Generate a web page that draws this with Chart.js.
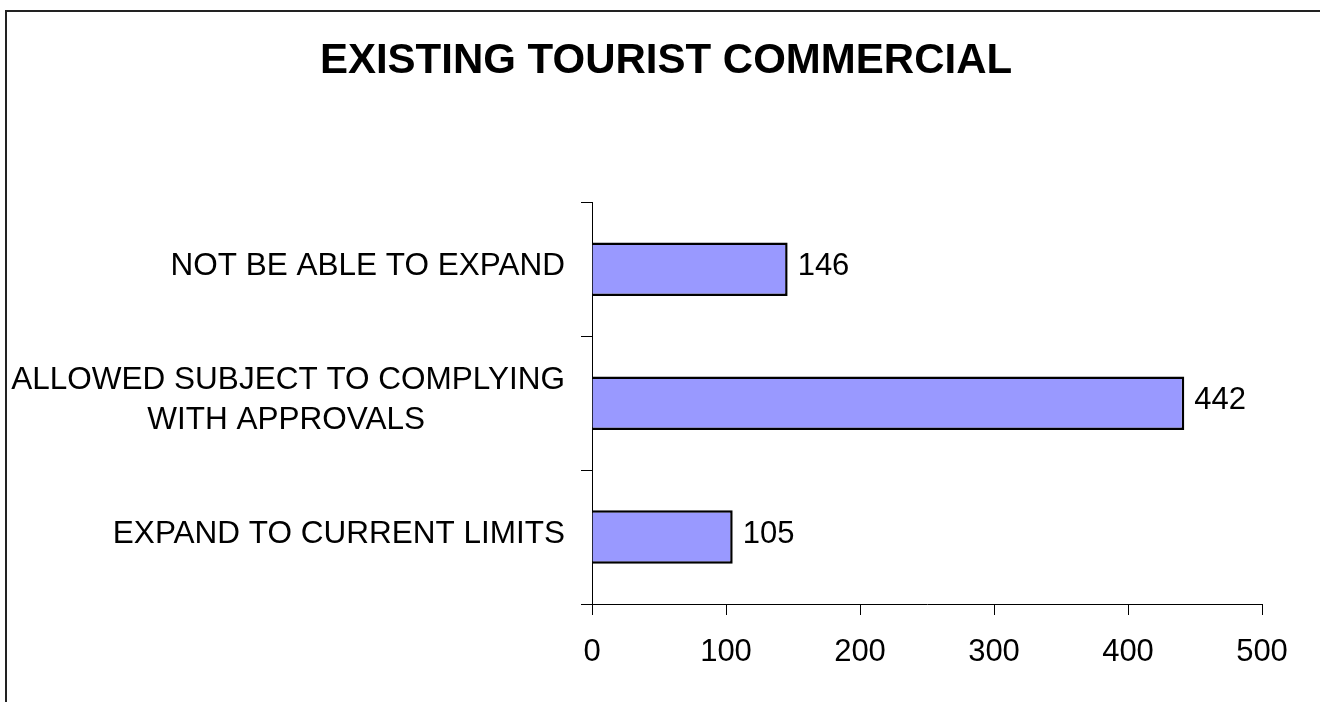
<!DOCTYPE html>
<html>
<head>
<meta charset="utf-8">
<script src="https://cdn.jsdelivr.net/npm/chart.js@4.4.1/dist/chart.umd.min.js"></script>
<style>
  html, body { margin: 0; padding: 0; background: #fff; overflow: hidden; width: 1320px; height: 702px; }
  #frame { position: absolute; left: 5px; top: 10px; width: 2000px; height: 2000px; border-left: 2px solid #222; border-top: 2px solid #222; }
  #c { position: absolute; left: 6px; top: 0; }
</style>
</head>
<body>
<div id="frame"></div>
<canvas id="c" width="1320" height="702"></canvas>
<script>
// chart data
const chartTitle = 'EXISTING TOURIST COMMERCIAL';
const categories = [
    ['NOT BE ABLE TO EXPAND'],
    ['ALLOWED SUBJECT TO COMPLYING', 'WITH APPROVALS'],
    ['EXPAND TO CURRENT LIMITS']
];
const counts = [146, 442, 105];
const xTicks = [0, 100, 200, 300, 400, 500];

const FAMILY = '"Liberation Sans", Arial, sans-serif';
const LABEL_SIZE = 31;
const CAT_SIZE = 31.5;

// lines of a wrapped label are centred on each other, the block is right aligned
function centerLines(lines) {
    if (lines.length < 2) return lines;
    const m = document.createElement('canvas').getContext('2d');
    m.font = CAT_SIZE + 'px ' + FAMILY;
    const widest = Math.max(...lines.map(l => m.measureText(l).width));
    const space = m.measureText(' ').width;
    return lines.map(l => l + ' '.repeat(Math.round((widest - m.measureText(l).width) / 2 / space)));
}

// numbers at the end of the bars
const valueLabels = {
    id: 'valueLabels',
    afterDatasetsDraw(chart) {
        const ctx = chart.ctx;
        const meta = chart.getDatasetMeta(0);
        ctx.save();
        ctx.font = LABEL_SIZE + 'px ' + FAMILY;
        ctx.fillStyle = '#000';
        ctx.textAlign = 'left';
        ctx.textBaseline = 'middle';
        meta.data.forEach((bar, i) => {
            ctx.fillText(String(counts[i]), bar.x + 10, bar.y - 3);
        });
        ctx.restore();
    }
};

new Chart(document.getElementById('c'), {
    type: 'bar',
    data: {
        labels: categories,
        datasets: [{
            data: counts,
            backgroundColor: '#9999FF',
            borderColor: '#000',
            borderWidth: 2.5,
            categoryPercentage: 1,
            barPercentage: 0.4
        }]
    },
    options: {
        indexAxis: 'y',
        responsive: false,
        animation: false,
        events: [],
        layout: { padding: { top: 10, left: 4, right: 4, bottom: 0 } },
        plugins: {
            legend: { display: false },
            tooltip: { enabled: false },
            title: {
                display: true,
                text: chartTitle,
                color: '#000',
                font: { family: FAMILY, size: 42, weight: 'bold', lineHeight: 1.2 },
                padding: { top: 26, bottom: 116 }
            }
        },
        scales: {
            x: {
                min: xTicks[0],
                max: xTicks[xTicks.length - 1],
                afterFit(scale) { scale.height = 98; },
                ticks: {
                    stepSize: xTicks[1] - xTicks[0],
                    color: '#000',
                    padding: 19,
                    maxRotation: 0,
                    font: { family: FAMILY, size: LABEL_SIZE }
                },
                grid: { drawOnChartArea: false, drawTicks: true, tickLength: 11, color: '#000', tickColor: '#000' },
                border: { display: true, color: '#000', width: 1 }
            },
            y: {
                afterFit(scale) { scale.width = 582; },
                ticks: {
                    color: '#000',
                    padding: 16,
                    labelOffset: -3,
                    crossAlign: 'near',
                    font: { family: FAMILY, size: CAT_SIZE, lineHeight: 1.28 },
                    callback(value) { return centerLines(categories[value]); }
                },
                grid: { offset: true, drawOnChartArea: false, drawTicks: true, tickLength: 11, color: '#000', tickColor: '#000' },
                border: { display: true, color: '#000', width: 1 }
            },
            // empty space on the right so the title stays centred on the frame
            spacer: {
                type: 'category',
                position: 'right',
                display: true,
                afterFit(scale) { scale.width = 60; },
                ticks: { display: false },
                grid: { display: false, drawTicks: false },
                border: { display: false }
            }
        }
    },
    plugins: [valueLabels]
});
</script>
</body>
</html>
